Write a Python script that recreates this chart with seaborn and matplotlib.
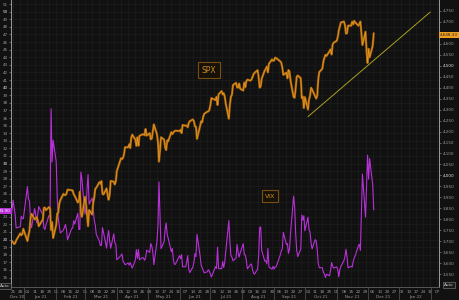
import numpy as np
import pandas as pd
import matplotlib
matplotlib.use("Agg")
import matplotlib.pyplot as plt
import matplotlib.dates as mdates
import matplotlib.transforms as mtransforms
import seaborn as sns

# ---------------- data ----------------
holidays = ["2020-12-25", "2021-01-01", "2021-01-18", "2021-02-15", "2021-04-02",
            "2021-05-31", "2021-07-05", "2021-09-06", "2021-11-25"]
start_date = "2020-12-18"
end_date = "2021-12-07"

spx_close = [
    # Dec 20
    3709.41, 3694.92, 3687.26, 3690.01, 3703.06, 3735.36, 3727.04, 3732.04, 3756.07,
    # Jan 21
    3700.65, 3726.86, 3748.14, 3803.79, 3824.68, 3799.61, 3801.19, 3809.84, 3795.54, 3768.25,
    3798.91, 3851.85, 3853.07, 3841.47, 3855.36, 3849.62, 3750.77, 3787.38, 3714.24,
    # Feb 21
    3773.86, 3826.31, 3830.17, 3871.74, 3886.83, 3915.59, 3911.23, 3909.88, 3916.38, 3934.83,
    3932.59, 3931.33, 3913.97, 3906.71, 3876.50, 3881.37, 3925.43, 3829.34, 3811.15,
    # Mar 21
    3901.82, 3870.29, 3819.72, 3768.47, 3841.94, 3821.35, 3875.44, 3898.81, 3939.34, 3943.34,
    3968.94, 3962.71, 3974.12, 3915.46, 3913.10, 3940.59, 3910.52, 3889.14, 3909.52, 3974.54,
    3971.09, 3958.55, 3972.89,
    # Apr 21
    4019.87, 4077.91, 4073.94, 4079.95, 4097.17, 4128.80, 4127.99, 4141.59, 4124.66, 4170.42,
    4185.47, 4163.26, 4134.94, 4173.42, 4134.98, 4180.17, 4187.62, 4186.72, 4183.18, 4211.47,
    4181.17,
    # May 21
    4192.66, 4164.66, 4167.59, 4201.62, 4232.60, 4188.43, 4152.10, 4063.04, 4112.50, 4173.85,
    4163.29, 4127.83, 4115.68, 4159.12, 4155.86, 4197.05, 4188.13, 4195.99, 4200.88, 4204.11,
    # Jun 21
    4202.04, 4208.12, 4192.85, 4229.89, 4226.52, 4227.26, 4219.55, 4239.18, 4247.44, 4255.15,
    4246.59, 4223.70, 4221.86, 4166.45, 4224.79, 4246.44, 4241.84, 4266.49, 4280.70, 4290.61,
    4291.80, 4297.50,
    # Jul 21
    4319.94, 4352.34, 4343.54, 4358.13, 4320.82, 4369.55, 4384.63, 4369.21, 4374.30, 4360.03,
    4327.16, 4258.49, 4323.06, 4358.69, 4367.48, 4411.79, 4422.30, 4401.46, 4400.64, 4419.15,
    4395.26,
    # Aug 21
    4387.16, 4423.15, 4402.66, 4429.10, 4436.52, 4432.35, 4436.75, 4447.70, 4460.83, 4468.00,
    4479.71, 4448.08, 4400.27, 4405.80, 4441.67, 4479.53, 4486.23, 4496.19, 4470.00, 4509.37,
    4528.79, 4522.68,
    # Sep 21
    4524.09, 4536.95, 4535.43, 4520.03, 4514.07, 4493.28, 4458.58, 4468.73, 4443.05, 4480.70,
    4473.75, 4432.99, 4357.73, 4354.19, 4395.64, 4448.98, 4455.48, 4443.11, 4352.63, 4359.46,
    4307.54,
    # Oct 21
    4357.04, 4300.46, 4345.72, 4363.55, 4399.76, 4391.34, 4361.19, 4350.65, 4363.80, 4438.26,
    4471.37, 4486.46, 4519.63, 4536.19, 4549.78, 4544.90, 4566.48, 4574.79, 4551.68, 4596.42,
    4605.38,
    # Nov 21
    4613.67, 4630.65, 4660.57, 4680.06, 4697.53, 4701.70, 4685.25, 4646.71, 4649.27, 4682.85,
    4682.80, 4700.90, 4688.67, 4704.54, 4697.96, 4682.94, 4690.70, 4701.46, 4594.62, 4655.27,
    4567.00,
    # Dec 21
    4513.04, 4577.10, 4538.43, 4591.67, 4648.33,
]

vix_close = [
    # Dec 20
    21.57, 25.16, 24.23, 23.31, 21.53, 21.70, 23.08, 22.77, 22.75,
    # Jan 21
    26.97, 25.34, 25.07, 22.37, 21.56, 24.08, 23.33, 22.21, 23.25, 24.34,
    23.24, 21.58, 21.32, 21.91, 23.19, 23.02, 37.21, 30.21, 33.09,
    # Feb 21
    30.24, 25.56, 22.91, 21.77, 20.87, 21.24, 21.63, 21.99, 21.25, 19.97,
    21.46, 21.50, 22.49, 22.05, 23.45, 21.34, 21.34, 28.89, 27.95,
    # Mar 21
    23.35, 24.10, 26.67, 28.57, 24.66, 25.47, 24.03, 22.56, 21.91, 20.69,
    19.79, 19.23, 19.23, 21.58, 20.95, 18.88, 20.30, 21.20, 19.81, 18.86,
    20.74, 19.61, 19.40,
    # Apr 21
    17.33, 17.91, 18.12, 17.16, 16.95, 16.69, 16.91, 16.65, 16.99, 16.57,
    16.25, 17.29, 18.68, 17.50, 18.71, 17.33, 17.64, 17.56, 17.28, 17.61,
    18.61,
    # May 21
    18.31, 19.48, 19.15, 18.39, 16.69, 19.66, 21.84, 27.59, 23.13, 18.81,
    19.72, 21.34, 22.18, 20.67, 20.15, 18.40, 18.84, 17.36, 16.74, 16.76,
    # Jun 21
    17.90, 17.48, 18.04, 16.42, 16.42, 17.07, 17.89, 16.10, 15.65, 16.39,
    17.02, 18.15, 17.75, 20.70, 17.89, 16.66, 16.32, 15.97, 15.62, 15.76,
    16.02, 15.83,
    # Jul 21
    15.48, 15.07, 16.44, 16.20, 19.00, 16.18, 16.17, 17.12, 16.33, 17.01,
    18.45, 22.50, 19.73, 17.91, 17.69, 17.20, 17.58, 19.36, 18.31, 17.70,
    18.24,
    # Aug 21
    19.46, 18.04, 17.97, 17.28, 16.15, 16.72, 16.79, 16.06, 15.59, 15.45,
    16.12, 17.91, 21.57, 21.67, 18.56, 17.15, 17.22, 16.79, 18.84, 16.39,
    16.11, 16.48,
    # Sep 21
    16.11, 16.41, 16.41, 17.96, 18.49, 18.80, 20.95, 19.37, 19.46, 18.18,
    18.69, 20.81, 25.71, 24.36, 20.87, 18.63, 17.75, 18.76, 23.25, 22.56,
    23.14,
    # Oct 21
    21.15, 22.96, 21.30, 21.00, 19.54, 18.77, 20.00, 19.85, 18.64, 16.86,
    16.30, 16.30, 15.70, 15.49, 15.01, 15.43, 15.24, 15.98, 16.98, 16.53,
    16.26,
    # Nov 21
    16.41, 16.03, 15.10, 16.03, 16.48, 17.22, 17.78, 18.73, 17.66, 16.29,
    16.49, 16.37, 17.11, 17.59, 17.91, 19.17, 19.38, 18.58, 28.62, 22.96,
    27.19,
    # Dec 21
    31.12, 27.95, 30.67, 27.18, 23.90,
]

trend_dates = ["2021-10-04", "2022-01-31"]
trend_values = [4268, 4745]

vix_ticks = list(range(15, 52))
spx_ticks = list(range(3550, 4751, 50))
month_labels = ["Dec 20", "Jan 21", "Feb 21", "Mar 21", "Apr 21", "May 21", "Jun 21",
                "Jul 21", "Aug 21", "Sep 21", "Oct 21", "Nov 21", "Dec 21", "Jan 22"]
spx_last_label = "4,648.33"
vix_last_label = "23.90"

dates = pd.bdate_range(start_date, end_date, freq="C", holidays=holidays)
assert len(dates) == len(spx_close) == len(vix_close)
df = pd.DataFrame({"date": dates, "SPX": spx_close, "VIX": vix_close})

# ---------------- style ----------------
BG = "#111111"
GRID = "#1d1d1d"
TXT = "#9a9a9a"
MAGENTA = "#B830D8"

sns.set_style("dark", {"axes.facecolor": BG, "figure.facecolor": BG,
                       "axes.edgecolor": "#888888", "grid.color": GRID})
plt.rcParams["font.family"] = ["DejaVu Sans"]

W, H = 459, 300
fig = plt.figure(figsize=(W / 100, H / 100), dpi=100)
fig.patch.set_facecolor(BG)
L, R, B, T = 11, 439, 287, 0
ax = fig.add_axes([L / W, 1 - B / H, (R - L) / W, (B - T) / H])
ax.set_facecolor(BG)
ax2 = ax.twinx()

# VIX (left axis)
sns.lineplot(data=df, x="date", y="VIX", ax=ax, color=MAGENTA, lw=0.8)
# SPX (right axis)
sns.lineplot(data=df, x="date", y="SPX", ax=ax2, color="#A8640C", lw=1.6)
sns.lineplot(data=df, x="date", y="SPX", ax=ax2, color="#E89A24", lw=0.5)
# trend line
ax2.plot(pd.to_datetime(trend_dates), trend_values, color="#A8A020", lw=0.7)

x0 = pd.Timestamp("2020-12-19")
x1 = pd.Timestamp("2022-02-08 12:00")
ax.set_xlim(x0, x1)
ax.set_ylim(13.76, 51.53)
ax2.set_ylim(3491, 4800)

ax.set_xlabel("")
ax.set_ylabel("")
ax2.set_xlabel("")
ax2.set_ylabel("")

# grid
ax.set_yticks(vix_ticks)
ax.yaxis.grid(True, color=GRID, lw=0.5)
ax.xaxis.grid(True, color=GRID, lw=0.5)
ax2.grid(False)
ax.set_axisbelow(True)

ax.xaxis.set_major_locator(mdates.WeekdayLocator(byweekday=mdates.MO))
ax.xaxis.set_major_formatter(mdates.DateFormatter("%d"))
ax.tick_params(axis="x", labelsize=3, colors=TXT, length=1.5, width=0.4, pad=0.8)
ax.tick_params(axis="y", labelsize=3, colors=TXT, length=1.5, width=0.4, pad=0.8)
ax2.set_yticks(spx_ticks)
ax2.set_yticklabels([f"{v:,}" for v in spx_ticks])
ax2.tick_params(axis="y", labelsize=3, colors=TXT, length=1.5, width=0.4, pad=1.0)

for lab, v in zip(ax.get_yticklabels(), vix_ticks):
    if v % 10 == 0:
        lab.set_color("#e0e0e0")
    if v == 24:  # covered by the last-value tag
        lab.set_visible(False)
for lab, v in zip(ax2.get_yticklabels(), spx_ticks):
    if v % 500 == 0:
        lab.set_color("#e0e0e0")
    if v == 4650:  # covered by the last-value tag
        lab.set_visible(False)

for a in (ax, ax2):
    a.spines["top"].set_visible(False)
    a.spines["left"].set_color("#9a9a9a")
    a.spines["right"].set_color("#9a9a9a")
    a.spines["bottom"].set_color("#555555")
    for s in ("left", "right", "bottom"):
        a.spines[s].set_linewidth(0.6)

# month labels and separators
trans = mtransforms.blended_transform_factory(ax.transData, ax.transAxes)
month_starts = pd.date_range("2020-12-01", "2022-02-01", freq="MS")
for i, ms in enumerate(month_starts[:-1]):
    me = month_starts[i + 1]
    a0 = max(ms, x0)
    mid = a0 + (me - a0) / 2
    if i < len(month_labels):
        ax.text(mid, -0.034, month_labels[i], transform=trans, fontsize=3,
                color=TXT, ha="center", va="center", clip_on=False)
    if me < x1:
        ax.plot([me, me], [0, -0.045], transform=trans, color="#555555", lw=0.5,
                clip_on=False)

# series labels
ax.text(0.4626, 0.756, "SPX", transform=ax.transAxes, fontsize=5.5, color="#D08A1E",
        ha="center", va="center",
        bbox=dict(boxstyle="square,pad=0.5", fc="#161208", ec="#7a4e10", lw=0.8))
ax.text(0.605, 0.317, "VIX", transform=ax.transAxes, fontsize=4.5, color="#D08A1E",
        ha="center", va="center",
        bbox=dict(boxstyle="square,pad=0.5", fc="#161208", ec="#7a4e10", lw=0.8))

# last value tags
fig.text(5 / W, 1 - 211 / H, vix_last_label, fontsize=3, color="white", ha="center",
         va="center", zorder=10,
         bbox=dict(boxstyle="square,pad=0.3", fc=MAGENTA, ec="none"))
fig.text(449 / W, 1 - 35 / H, spx_last_label, fontsize=3, color="#222222", ha="center",
         va="center", zorder=10,
         bbox=dict(boxstyle="square,pad=0.3", fc="#F0A020", ec="none"))

# Auto buttons
for xp, yp in ((5, 286), (449, 285)):
    fig.text(xp / W, 1 - yp / H, "Auto", fontsize=3, color="#cccccc", ha="center",
             va="center", bbox=dict(boxstyle="square,pad=0.3", fc="#1a1a1a",
                                    ec="#888888", lw=0.4))

fig.savefig("out.png", dpi=100, facecolor=BG)
